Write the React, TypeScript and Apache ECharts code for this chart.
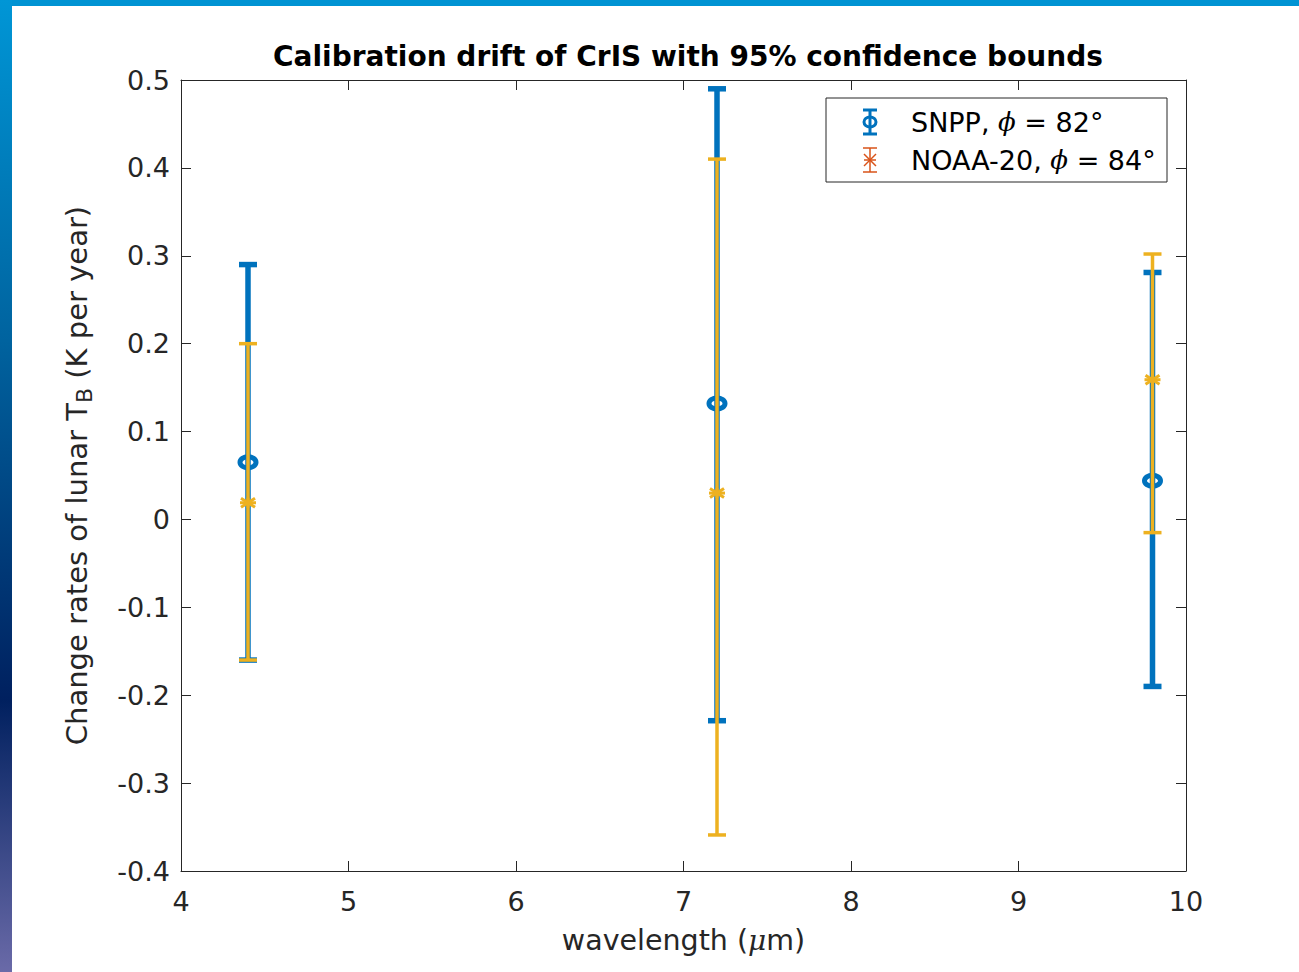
import React, { useEffect, useRef } from "react";
import * as echarts from "echarts";

const titleText = "Calibration drift of CrIS with 95% confidence bounds";
const xTicks = { min: 4, max: 10, interval: 1 };
const yTicks = { min: -0.4, max: 0.5, interval: 0.1 };

// [wavelength, centre, lower bound, upper bound]
const wavelengths = [4.4, 7.2, 9.8];
const snppCentre = [0.065, 0.132, 0.044];
const snppLower = [-0.16, -0.229, -0.19];
const snppUpper = [0.29, 0.49, 0.281];
const noaaCentre = [0.019, 0.03, 0.159];
const noaaLower = [-0.16, -0.359, -0.015];
const noaaUpper = [0.2, 0.41, 0.302];

const seriesNames = ["SNPP", "NOAA-20"];
const seriesAngles = ["82°", "84°"];

const BLUE = "#0072BD";
const YELLOW = "#EDB120";
const ORANGE = "#D95319";
const FONT = "DejaVu Sans";
const TXT = "#262626";

function build(centre: number[], lower: number[], upper: number[]) {
  return wavelengths.map((w, i) => [w, centre[i], lower[i], upper[i]]);
}

function errRender(color: string, lw: number, capW: number, marker: "circle" | "star") {
  return (params: any, api: any) => {
    const x = api.value(0);
    const pC = api.coord([x, api.value(1)]);
    const pLo = api.coord([x, api.value(2)]);
    const pHi = api.coord([x, api.value(3)]);
    const st = { stroke: color, lineWidth: lw, fill: "none" };
    const children: any[] = [
      { type: "line", shape: { x1: pLo[0], y1: pLo[1], x2: pHi[0], y2: pHi[1] }, style: st },
      { type: "line", shape: { x1: pLo[0] - capW / 2, y1: pLo[1], x2: pLo[0] + capW / 2, y2: pLo[1] }, style: st },
      { type: "line", shape: { x1: pHi[0] - capW / 2, y1: pHi[1], x2: pHi[0] + capW / 2, y2: pHi[1] }, style: st },
    ];
    if (marker === "circle") {
      children.push({
        type: "ellipse",
        shape: { cx: pC[0], cy: pC[1], rx: 8, ry: 5.5 },
        style: { stroke: color, lineWidth: 5, fill: "none" },
      });
    } else {
      const r = 7;
      const m = { stroke: color, lineWidth: 3, fill: "none" };
      children.push(
        { type: "line", shape: { x1: pC[0] - r - 1, y1: pC[1], x2: pC[0] + r + 1, y2: pC[1] }, style: m },
        { type: "line", shape: { x1: pC[0], y1: pC[1] - 5, x2: pC[0], y2: pC[1] + 5 }, style: m },
        { type: "line", shape: { x1: pC[0] - r, y1: pC[1] - 4.5, x2: pC[0] + r, y2: pC[1] + 4.5 }, style: m },
        { type: "line", shape: { x1: pC[0] - r, y1: pC[1] + 4.5, x2: pC[0] + r, y2: pC[1] - 4.5 }, style: m }
      );
    }
    return { type: "group", children };
  };
}

function legendEntry(y: number, color: string, lw: number, marker: "circle" | "star", name: string, angle: string) {
  const cx = 870;
  const st = { stroke: color, lineWidth: lw, fill: "none" };
  const els: any[] = [
    { type: "line", z: 101, shape: { x1: cx, y1: y - 12, x2: cx, y2: y + 12 }, style: st },
    { type: "line", z: 101, shape: { x1: cx - 7, y1: y - 12, x2: cx + 7, y2: y - 12 }, style: st },
    { type: "line", z: 101, shape: { x1: cx - 7, y1: y + 12, x2: cx + 7, y2: y + 12 }, style: st },
  ];
  if (marker === "circle") {
    els.push({ type: "ellipse", z: 101, shape: { cx, cy: y, rx: 6, ry: 5 }, style: { stroke: color, lineWidth: 3, fill: "none" } });
  } else {
    const r = 6;
    const m = { stroke: color, lineWidth: 1.5, fill: "none" };
    els.push(
      { type: "line", z: 101, shape: { x1: cx - r, y1: y, x2: cx + r, y2: y }, style: m },
      { type: "line", z: 101, shape: { x1: cx - r, y1: y - r, x2: cx + r, y2: y + r }, style: m },
      { type: "line", z: 101, shape: { x1: cx - r, y1: y + r, x2: cx + r, y2: y - r }, style: m }
    );
  }
  els.push({
    type: "text",
    z: 101,
    x: 911,
    y,
    style: {
      text: `{n|${name}, }{i|ϕ}{n| = ${angle}}`,
      verticalAlign: "middle",
      rich: {
        n: { fontFamily: FONT, fontSize: 27, fill: "#000" },
        i: { fontFamily: "DejaVu Serif", fontStyle: "italic", fontSize: 26, fill: "#000" },
      },
    },
  });
  return els;
}

export default function App() {
  const ref = useRef<HTMLDivElement>(null);
  useEffect(() => {
    if (!ref.current) return;
    const chart = echarts.init(ref.current, null, { renderer: "svg" });
    const fmt = (v: number) => (Math.abs(v) < 1e-9 ? "0" : v.toFixed(1));
    const axisLine = { show: true, onZero: false, lineStyle: { color: TXT, width: 1 } };
    const tick = { show: true, inside: true, length: 10, lineStyle: { color: TXT, width: 1 } };
    const option: any = {
      animation: false,
      backgroundColor: "#ffffff",
      title: {
        text: titleText,
        left: 683,
        top: 37,
        textAlign: "center",
        textStyle: { fontFamily: FONT, fontWeight: "bold", fontSize: 28, color: "#000" },
      },
      grid: { left: 181, right: 113, top: 80, bottom: 101 },
      xAxis: [
        {
          type: "value",
          ...xTicks,
          axisLine,
          axisTick: tick,
          splitLine: { show: false },
          axisLabel: { fontFamily: FONT, fontSize: 27, color: TXT, margin: 17 },
          name: "{a|wavelength (}{i|μ}{a|m)}",
          nameLocation: "middle",
          nameGap: 55,
          nameTextStyle: {
            rich: {
              a: { fontFamily: FONT, fontSize: 28.5, color: TXT },
              i: { fontFamily: "DejaVu Serif", fontStyle: "italic", fontSize: 28, color: TXT },
            },
          },
        },
        {
          type: "value",
          position: "top",
          ...xTicks,
          axisLine,
          axisTick: tick,
          splitLine: { show: false },
          axisLabel: { show: false },
        },
      ],
      yAxis: [
        {
          type: "value",
          ...yTicks,
          axisLine,
          axisTick: tick,
          splitLine: { show: false },
          axisLabel: { fontFamily: FONT, fontSize: 27, color: TXT, margin: 11, formatter: fmt },
          name: "{a|Change rates of lunar T}{s|B}{a| (K per year)}",
          nameLocation: "middle",
          nameGap: 86,
          nameRotate: 90,
          nameTextStyle: {
            rich: {
              a: { fontFamily: FONT, fontSize: 29, color: TXT },
              s: { fontFamily: FONT, fontSize: 22, color: TXT, padding: [14, 0, 0, 0] },
            },
          },
        },
        {
          type: "value",
          position: "right",
          ...yTicks,
          axisLine,
          axisTick: tick,
          splitLine: { show: false },
          axisLabel: { show: false },
        },
      ],
      series: [
        {
          type: "custom",
          name: seriesNames[0],
          xAxisIndex: 0,
          yAxisIndex: 0,
          renderItem: errRender(BLUE, 5.5, 18, "circle"),
          data: build(snppCentre, snppLower, snppUpper),
          z: 3,
        },
        {
          type: "custom",
          name: seriesNames[1],
          xAxisIndex: 0,
          yAxisIndex: 0,
          renderItem: errRender(YELLOW, 3.5, 18, "star"),
          data: build(noaaCentre, noaaLower, noaaUpper),
          z: 4,
        },
      ],
      graphic: [
        {
          type: "rect",
          z: -1,
          silent: true,
          shape: { x: 0, y: 0, width: 1299, height: 6 },
          style: { fill: "#0093d3" },
        },
        {
          type: "rect",
          z: -1,
          silent: true,
          shape: { x: 0, y: 0, width: 12, height: 972 },
          style: {
            fill: new echarts.graphic.LinearGradient(0, 0, 0, 1, [
              { offset: 0, color: "#0096d6" },
              { offset: 0.35, color: "#00639f" },
              { offset: 0.72, color: "#00205f" },
              { offset: 1, color: "#6a6aa8" },
            ]),
          },
        },
        {
          type: "rect",
          z: 100,
          shape: { x: 826, y: 98, width: 341, height: 84 },
          style: { fill: "#ffffff", stroke: TXT, lineWidth: 1 },
        },
        ...legendEntry(122, BLUE, 3, "circle", seriesNames[0], seriesAngles[0]),
        ...legendEntry(160, ORANGE, 1.5, "star", seriesNames[1], seriesAngles[1]),
      ],
    };
    chart.setOption(option);
    return () => chart.dispose();
  }, []);
  return (
    <div
      ref={ref}
      style={{ position: "fixed", left: 0, top: 0, width: 1299, height: 972 }}
    />
  );
}
